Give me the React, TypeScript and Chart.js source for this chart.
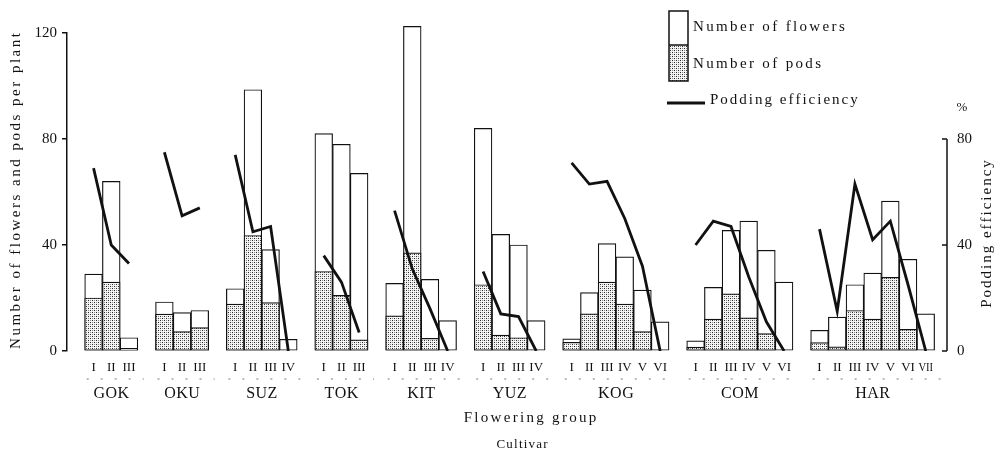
import React, { useEffect, useRef } from 'react';
import { Chart, registerables } from 'chart.js';

Chart.register(...registerables);

const cultivars = ['GOK', 'OKU', 'SUZ', 'TOK', 'KIT', 'YUZ', 'KOG', 'COM', 'HAR'];
const groupLabels = ['I', 'II', 'III', 'IV', 'V', 'VI', 'VII'];

const flowers: number[][] = [
  [29, 64, 5],
  [18.5, 14.5, 15.3],
  [23.5, 98.6, 38.3, 4.4],
  [82, 78, 67],
  [25.5, 122.5, 27, 11.5],
  [84, 44, 40, 11.5],
  [4.6, 22, 40.5, 35.5, 23, 11],
  [3.8, 24, 45.5, 49, 38, 26],
  [7.8, 12.8, 25, 29.4, 56.6, 34.6, 14],
];

const pods: number[][] = [
  [20, 26, 1],
  [13.9, 7.3, 8.8],
  [17.7, 43.6, 18.3, 0],
  [30, 21, 4.2],
  [13.3, 37, 4.8, 0],
  [25, 6, 5, 0],
  [3.3, 14, 26, 17.7, 7.3, 0],
  [1.5, 12, 21.6, 12.5, 6.6, 0],
  [3.2, 1.6, 15.3, 12, 27.8, 8.2, 0],
];

const efficiency: number[][] = [
  [69, 40, 33],
  [75, 51, 54],
  [74, 45, 47, 0],
  [36, 26, 7],
  [53, 31, 16, 0],
  [30, 14, 13, 0],
  [71, 63, 64, 50, 32, 0],
  [40, 49, 47, 28, 11, 0],
  [46, 15, 63, 42, 49, 25, 0],
];

const leftTicks = [0, 40, 80, 120];
const rightTicks = [0, 40, 80];

const legendLabels = ['Number of flowers', 'Number of pods', 'Podding efficiency'];
const leftTitle = 'Number of flowers and pods per plant';
const rightTitle = 'Podding efficiency';
const rightUnit = '%';
const xTitle = 'Flowering group';
const xSubTitle = 'Cultivar';

const FONT = '"Liberation Serif", "DejaVu Serif", serif';
const INK = '#111';

// layout: one empty slot before the first cultivar and one between cultivars
const slotsLayout = (() => {
  const centers: number[][] = [];
  let slot = 1;
  cultivars.forEach((_, ci) => {
    const row: number[] = [];
    flowers[ci].forEach(() => {
      row.push(slot + 0.5);
      slot += 1;
    });
    centers.push(row);
    slot += 1;
  });
  return centers;
})();

function spaced(ctx: CanvasRenderingContext2D, text: string, x: number, y: number, spacing: number, align: 'left' | 'center') {
  ctx.textAlign = 'left';
  let w = 0;
  for (const ch of text) w += ctx.measureText(ch).width + spacing;
  w -= spacing;
  let cx = align === 'center' ? x - w / 2 : x;
  for (const ch of text) {
    ctx.fillText(ch, cx, y);
    cx += ctx.measureText(ch).width + spacing;
  }
}

export default function App() {
  const ref = useRef<HTMLCanvasElement | null>(null);

  useEffect(() => {
    const canvas = ref.current;
    if (!canvas) return;
    const ctx = canvas.getContext('2d')!;

    const pc = document.createElement('canvas');
    pc.width = 4;
    pc.height = 4;
    const g = pc.getContext('2d')!;
    g.fillStyle = '#f4f4f4';
    g.fillRect(0, 0, 4, 4);
    g.fillStyle = '#2a2a2a';
    g.fillRect(0, 0, 1, 1);
    g.fillRect(2, 2, 1, 1);
    g.fillStyle = '#8a8a8a';
    g.fillRect(2, 0, 1, 1);
    g.fillRect(0, 2, 1, 1);
    const stipple = ctx.createPattern(pc, 'repeat')!;

    const flowerData: { x: number; y: number }[] = [];
    const podData: { x: number; y: number }[] = [];
    const effData: { x: number; y: number | null }[] = [];
    cultivars.forEach((_, ci) => {
      slotsLayout[ci].forEach((x, j) => {
        flowerData.push({ x, y: flowers[ci][j] });
        podData.push({ x, y: pods[ci][j] });
        effData.push({ x, y: efficiency[ci][j] });
      });
      const last = slotsLayout[ci][slotsLayout[ci].length - 1];
      effData.push({ x: last + 1, y: null });
    });

    const decor = {
      id: 'decor',
      afterDraw(chart: any) {
        const c: CanvasRenderingContext2D = chart.ctx;
        const xs = chart.scales.x;
        const y1 = chart.scales.y1;
        const area = chart.chartArea;
        c.save();
        c.fillStyle = INK;
        c.strokeStyle = INK;

        // right axis line 0..80 with inward ticks
        const rx = area.right;
        c.lineWidth = 1.5;
        c.beginPath();
        c.moveTo(rx, y1.getPixelForValue(0));
        c.lineTo(rx, y1.getPixelForValue(rightTicks[rightTicks.length - 1]));
        c.stroke();
        rightTicks.forEach((t) => {
          const py = y1.getPixelForValue(t);
          c.beginPath();
          c.moveTo(rx - 5, py);
          c.lineTo(rx, py);
          c.stroke();
        });

        // group labels and cultivar names
        c.textBaseline = 'middle';
        cultivars.forEach((name, ci) => {
          const centers = slotsLayout[ci];
          const w = xs.getPixelForValue(1) - xs.getPixelForValue(0);
          c.font = `13px ${FONT}`;
          c.textAlign = 'center';
          centers.forEach((x, j) => {
            c.fillText(groupLabels[j], xs.getPixelForValue(x), 368, w - 3);
          });
          const x0 = xs.getPixelForValue(centers[0] - 0.5);
          const x1 = xs.getPixelForValue(centers[centers.length - 1] + 0.5);
          c.font = `16px ${FONT}`;
          spaced(c, name, (x0 + x1) / 2, 394, 0.5, 'center');
          // faint dashed bracket
          c.save();
          c.strokeStyle = '#777';
          c.lineWidth = 1;
          c.setLineDash([2, 12]);
          c.beginPath();
          c.moveTo(x0 + 2, 379);
          c.lineTo(x1 + 6, 379);
          c.stroke();
          c.restore();
        });

        c.font = `15px ${FONT}`;
        spaced(c, xTitle, 530, 418, 2.3, 'center');
        c.font = `13px ${FONT}`;
        spaced(c, xSubTitle, 522, 445, 1.2, 'center');

        // left title
        c.font = `15px ${FONT}`;
        c.save();
        c.translate(16, 191);
        c.rotate(-Math.PI / 2);
        spaced(c, leftTitle, 0, 0, 2.5, 'center');
        c.restore();

        // right title
        c.save();
        c.translate(987, 234);
        c.rotate(-Math.PI / 2);
        spaced(c, rightTitle, 0, 0, 2, 'center');
        c.restore();
        c.font = `13px ${FONT}`;
        c.textAlign = 'center';
        c.fillText(rightUnit, 962, 108);

        // legend
        c.lineWidth = 1.5;
        c.fillStyle = '#fff';
        c.fillRect(669, 11, 19, 34);
        c.fillStyle = stipple;
        c.fillRect(669, 45, 19, 36);
        c.strokeRect(669, 11, 19, 70);
        c.beginPath();
        c.moveTo(669, 45);
        c.lineTo(688, 45);
        c.stroke();
        c.lineWidth = 2.8;
        c.beginPath();
        c.moveTo(667, 103);
        c.lineTo(705, 103);
        c.stroke();
        c.fillStyle = INK;
        c.font = `15px ${FONT}`;
        spaced(c, legendLabels[0], 693, 27, 2.35, 'left');
        spaced(c, legendLabels[1], 693, 64, 2.35, 'left');
        spaced(c, legendLabels[2], 710, 100, 2.0, 'left');

        c.restore();
      },
    };

    const barCommon = {
      borderColor: INK,
      borderWidth: 1.2,
      borderSkipped: false as const,
      grouped: false,
      barPercentage: 1,
      categoryPercentage: 1,
      clip: false,
      yAxisID: 'y',
    };

    const chart = new Chart(ctx, {
      type: 'bar',
      data: {
        datasets: [
          {
            type: 'line',
            label: legendLabels[2],
            data: effData as any,
            borderColor: INK,
            borderWidth: 2.8,
            pointRadius: 0,
            tension: 0,
            spanGaps: false,
            yAxisID: 'y1',
            order: 0,
          } as any,
          {
            ...barCommon,
            label: legendLabels[1],
            data: podData as any,
            backgroundColor: stipple as any,
            order: 1,
          },
          {
            ...barCommon,
            label: legendLabels[0],
            data: flowerData as any,
            backgroundColor: '#fff',
            order: 2,
          },
        ],
      },
      options: {
        responsive: false,
        animation: false,
        events: [],
        layout: { padding: { top: 33, bottom: 105, left: 0, right: 0 } },
        plugins: { legend: { display: false }, tooltip: { enabled: false } },
        scales: {
          x: {
            type: 'linear',
            display: false,
            offset: false,
            min: 0,
            max: 49.7,
          },
          y: {
            position: 'left',
            min: 0,
            max: 120,
            afterBuildTicks: (s: any) => {
              s.ticks = leftTicks.map((v) => ({ value: v }));
            },
            ticks: { color: INK, font: { family: FONT, size: 15 }, padding: 5 },
            grid: { drawOnChartArea: false, drawTicks: true, tickLength: 5, color: INK, lineWidth: 1.5 },
            border: { display: true, color: INK, width: 1.5 },
            afterFit: (s: any) => {
              s.width = 67;
            },
          },
          y1: {
            position: 'right',
            min: 0,
            max: 120,
            afterBuildTicks: (s: any) => {
              s.ticks = rightTicks.map((v) => ({ value: v }));
            },
            ticks: { color: INK, font: { family: FONT, size: 15 }, padding: 10 },
            grid: { display: true, drawOnChartArea: false, drawTicks: false },
            border: { display: false },
            afterFit: (s: any) => {
              s.width = 59;
            },
          },
        },
      } as any,
      plugins: [decor],
    });

    return () => chart.destroy();
  }, []);

  return (
    <div style={{ position: 'fixed', left: 0, top: 0, width: 1006, height: 456, background: '#fff' }}>
      <canvas ref={ref} width={1006} height={456} style={{ display: 'block', width: 1006, height: 456 }} />
    </div>
  );
}
